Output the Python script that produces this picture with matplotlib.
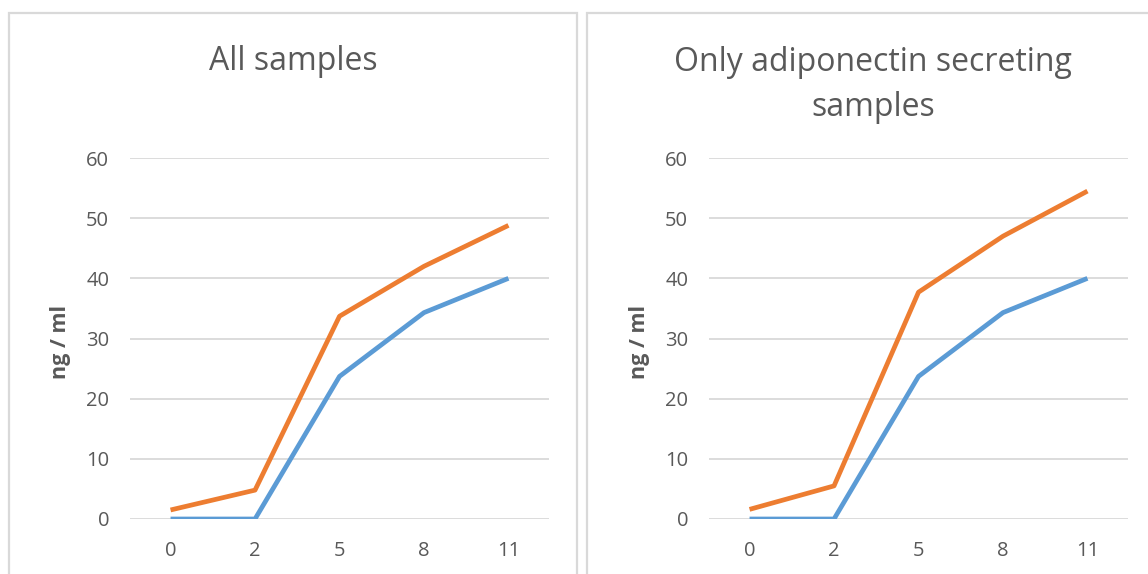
import matplotlib.pyplot as plt
from matplotlib.patches import Rectangle

plt.rcParams['font.family'] = ['Open Sans', 'DejaVu Sans']

days = ["0", "2", "5", "8", "11"]
# All samples
all_blue = [0, 0, 23.7, 34.3, 40.0]
all_orange = [1.5, 4.8, 33.7, 42.0, 48.8]
# Only adiponectin secreting samples
adipo_blue = [0, 0, 23.7, 34.3, 40.0]
adipo_orange = [1.6, 5.5, 37.7, 47.0, 54.5]

titles = ["All samples", "Only adiponectin secreting\nsamples"]
panels = [(all_blue, all_orange), (adipo_blue, adipo_orange)]

W, H = 1148, 574
fig = plt.figure(figsize=(W / 100, H / 100), dpi=100)

grey_txt = "#595959"
grid_c = "#d9d9d9"

# panel frames in pixels: left, top, right
frames = [(9, 13, 577), (587, 13, 1150)]
for x0, yt, x1 in frames:
    fig.patches.append(Rectangle((x0 / W, -0.01), (x1 - x0) / W, 1 - yt / H + 0.01,
                                 transform=fig.transFigure, fill=False,
                                 edgecolor="#d9d9d9", linewidth=1.6))

ax_lefts = [130, 709]
title_x = [293, 873]
title_y = [61, 85]
for i, (blue, orange) in enumerate(panels):
    ax = fig.add_axes([ax_lefts[i] / W, 1 - 519 / H, 419 / W, 361 / H])
    x = range(len(days))
    ax.plot(x, blue, color="#5B9BD5", linewidth=3.4, solid_capstyle="butt")
    ax.plot(x, orange, color="#ED7D31", linewidth=3.4, solid_capstyle="butt")
    ax.set_xlim(-0.48, 4.48)
    ax.set_ylim(0, 60)
    ax.set_yticks(range(0, 61, 10))
    ax.set_xticks(list(x))
    ax.set_xticklabels(days)
    ax.grid(axis="y", color=grid_c, linewidth=1.3)
    ax.set_axisbelow(True)
    for s in ax.spines.values():
        s.set_visible(False)
    ax.tick_params(length=0, colors=grey_txt, labelsize=14.5)
    ax.tick_params(axis="y", pad=15)
    ax.tick_params(axis="x", pad=16)
    ax.set_ylabel("ng / ml", color=grey_txt, fontsize=15.5, fontweight="bold")
    ax.yaxis.set_label_coords(-0.14, 0.49)
    fig.text(title_x[i] / W, 1 - title_y[i] / H, titles[i], ha="center", va="center",
             fontsize=23, color=grey_txt, linespacing=1.5)

fig.savefig("out.png", dpi=100)
